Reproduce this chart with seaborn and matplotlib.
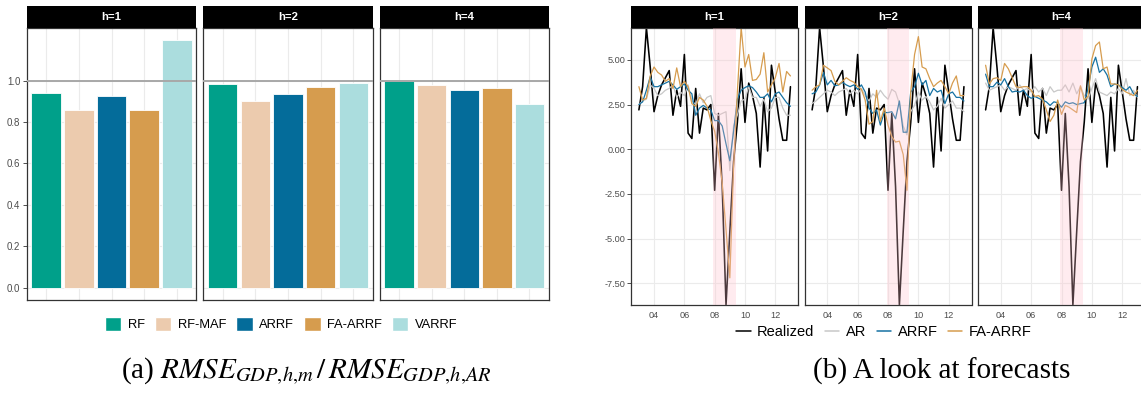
import pandas as pd
import matplotlib
matplotlib.use("Agg")
import matplotlib.pyplot as plt
import matplotlib.dates as mdates
from matplotlib.patches import Patch
from matplotlib.lines import Line2D
import seaborn as sns

# ---------------------------------------------------------------- data
horizons = ["h=1", "h=2", "h=4"]
models = ["RF", "RF-MAF", "ARRF", "FA-ARRF", "VARRF"]
model_colors = ["#00A08A", "#ECCBAE", "#046C9A", "#D69C4E", "#ABDDDE"]

# RMSE relative to the AR benchmark, one list per horizon
ratio_h1 = [0.938, 0.859, 0.928, 0.858, 1.196]
ratio_h2 = [0.986, 0.904, 0.936, 0.968, 0.990]
ratio_h4 = [0.997, 0.981, 0.954, 0.965, 0.889]

# quarterly GDP growth (annualized) and forecasts, 2003Q1-2013Q1
quarter_start = "2003-01-01"
quarter_end = "2013-01-01"
realized = [2.2, 3.5, 6.8, 4.6, 2.1, 3.0, 3.6, 4.0, 4.4, 1.9, 3.3, 2.4,
            5.3, 0.9, 0.6, 3.4, 0.9, 2.3, 2.2, 2.5, -2.3, 2.0, -2.1, -8.72,
            -4.6, -0.7, 1.5, 4.5, 1.5, 3.7, 3.0, 2.0, -1.0, 2.9, -0.1, 4.7,
            3.2, 1.7, 0.5, 0.5, 3.5]

ar_h1 = [2.5, 2.7, 2.8, 3.6, 3.4, 3.0, 3.1, 3.3, 3.4, 3.6, 2.9, 3.2,
         3.0, 3.6, 2.7, 2.5, 3.1, 2.6, 2.9, 3.0, 2.0, 1.9, 2.0, 2.1,
         -1.2, 1.3, 1.9, 2.7, 2.8, 3.5, 2.9, 2.9, 2.4, 2.8, 2.1, 2.3,
         2.9, 2.9, 2.3, 1.9, 1.9]
arrf_h1 = [2.5, 2.65, 3.3, 4.05, 3.5, 3.5, 3.6, 3.7, 3.8, 3.6, 3.35, 3.5,
           3.65, 3.3, 3.1, 1.9, 2.3, 2.45, 2.3, 2.2, 1.6, 1.6, 1.3, 0.3,
           -0.65, 1.0, 2.8, 3.3, 3.45, 3.55, 3.45, 3.2, 2.9, 2.9, 3.1, 2.65,
           3.1, 3.2, 2.9, 2.6, 2.4]
faarrf_h1 = [3.5, 2.75, 2.85, 4.1, 4.6, 4.3, 4.15, 3.8, 3.95, 3.4, 4.55, 3.5,
             3.8, 3.5, 2.55, 2.4, 2.9, 2.75, 2.4, 1.6, 1.0, -0.2, -1.9, -4.5,
             -7.2, -1.0, 3.2, 6.8, 4.6, 5.3, 3.85, 3.9, 4.2, 5.4, 3.2, 3.6,
             4.0, 4.8, 3.2, 4.35, 4.1]

ar_h2 = [2.55, 2.7, 2.9, 3.1, 3.3, 3.2, 3.0, 3.2, 3.3, 3.4, 3.1, 3.3,
         3.1, 3.4, 3.0, 2.7, 3.1, 2.9, 3.3, 3.0, 2.8, 3.35, 3.2, 2.55,
         1.3, 0.8, 2.1, 2.45, 3.2, 2.75, 2.95, 2.65, 2.2, 2.4, 2.85, 2.3,
         2.5, 2.7, 2.3, 2.3, 2.1]
arrf_h2 = [3.1, 3.2, 3.6, 4.3, 3.6, 3.85, 3.55, 3.6, 3.75, 3.6, 3.5, 3.6,
           3.35, 3.6, 3.2, 2.3, 2.0, 2.2, 1.35, 2.05, 2.05, 2.1, 1.7, 2.7,
           0.95, 0.95, 3.2, 3.5, 4.25, 3.6, 3.85, 3.0, 3.4, 3.2, 3.3, 2.55,
           3.1, 3.2, 2.9, 2.9, 2.7]
faarrf_h2 = [3.3, 3.5, 3.6, 4.7, 4.55, 4.4, 3.8, 3.6, 3.8, 4.0, 3.85, 3.75,
             3.5, 3.35, 2.75, 1.4, 1.55, 3.3, 1.55, 2.3, 1.35, 0.7, 0.4, 0.45,
             -0.3, -2.3, 3.2, 5.3, 6.3, 4.6, 4.5, 3.95, 3.5, 3.7, 3.85, 3.5,
             3.1, 3.7, 4.1, 3.0, 3.0]

ar_h4 = [3.7, 3.3, 3.4, 3.5, 3.6, 3.3, 3.5, 3.4, 3.3, 3.6, 3.3, 3.4,
         3.2, 3.5, 3.2, 3.4, 3.0, 3.5, 3.2, 3.3, 3.3, 3.6, 3.2, 3.7,
         3.1, 3.5, 3.0, 2.8, 3.4, 3.95, 3.2, 3.1, 3.0, 3.2, 3.1, 3.4,
         3.1, 3.95, 3.0, 3.3, 2.9]
arrf_h4 = [4.2, 3.5, 3.5, 3.75, 3.6, 3.95, 3.5, 3.2, 3.25, 3.2, 3.3, 3.0,
           2.85, 2.95, 2.85, 2.75, 2.65, 2.45, 2.65, 2.6, 2.35, 2.65, 2.55, 2.6,
           2.5, 2.55, 2.6, 3.4, 4.6, 5.15, 4.3, 4.5, 4.15, 3.5, 3.65, 3.6,
           3.45, 3.3, 3.5, 3.1, 2.95]
faarrf_h4 = [4.7, 3.65, 3.95, 4.0, 3.85, 4.8, 4.5, 4.0, 3.5, 3.45, 3.5, 3.5,
             3.3, 2.95, 3.0, 2.8, 2.2, 1.55, 1.9, 2.75, 1.95, 2.45, 2.35, 2.2,
             2.05, 3.55, 2.75, 2.95, 5.05, 5.8, 6.0, 4.5, 4.6, 3.65, 3.65, 3.6,
             3.35, 3.2, 3.1, 3.0, 3.3]

recession_start = "2007-12-01"
recession_end = "2009-06-01"

series_names = ["Realized", "AR", "ARRF", "FA-ARRF"]
series_colors = ["#000000", "#C8C8C8", "#1672A3", "#D69C4E"]
series_widths = [1.15, 0.9, 0.9, 0.9]

# ---------------------------------------------------------------- frames
ratios = {"h=1": ratio_h1, "h=2": ratio_h2, "h=4": ratio_h4}
bar_df = pd.concat(
    [pd.DataFrame({"horizon": h, "model": models, "ratio": ratios[h]}) for h in horizons],
    ignore_index=True)

dates = pd.date_range(quarter_start, quarter_end, freq="QS")
forecasts = {
    "h=1": [realized, ar_h1, arrf_h1, faarrf_h1],
    "h=2": [realized, ar_h2, arrf_h2, faarrf_h2],
    "h=4": [realized, ar_h4, arrf_h4, faarrf_h4],
}
line_df = pd.concat(
    [pd.DataFrame({"date": dates, "horizon": h, "series": name, "value": vals})
     for h in horizons for name, vals in zip(series_names, forecasts[h])],
    ignore_index=True)

# ---------------------------------------------------------------- style
sns.set_theme(style="white")
plt.rcParams["font.family"] = ["Liberation Sans", "DejaVu Sans"]
plt.rcParams["mathtext.fontset"] = "stix"
plt.rcParams["text.color"] = "black"

W, H = 1141, 393
fig = plt.figure(figsize=(W / 100, H / 100), dpi=100)


def box(left, top, right, bottom):
    return [left / W, 1 - bottom / H, (right - left) / W, (bottom - top) / H]


def strip(left, right, label):
    sax = fig.add_axes(box(left, 6, right, 27.7))
    sax.set_facecolor("black")
    sax.set_xticks([])
    sax.set_yticks([])
    for s in sax.spines.values():
        s.set_visible(False)
    sax.text(0.5, 0.5, label, color="white", fontweight="bold", fontsize=8.2,
             ha="center", va="center", transform=sax.transAxes)


def frame(ax):
    ax.set_axisbelow(True)
    ax.grid(True, color="#EBEBEB", lw=0.8)
    for s in ax.spines.values():
        s.set_visible(True)
        s.set_color("#333333")
        s.set_linewidth(0.9)
    ax.tick_params(axis="both", which="major", length=3, width=0.6,
                   color="#333333", labelcolor="#4D4D4D", pad=1.5)
    ax.set_xlabel("")
    ax.set_ylabel("")


# ---------------------------------------------------------------- bars
bar_boxes = [(26.6, 196.4), (203, 373), (379.6, 549)]
palette_models = dict(zip(models, model_colors))
for k, (h, (l, r)) in enumerate(zip(horizons, bar_boxes)):
    ax = fig.add_axes(box(l, 27.7, r, 300))
    sns.barplot(data=bar_df[bar_df["horizon"] == h], x="model", y="ratio",
                hue="model", order=models, hue_order=models,
                palette=palette_models, saturation=1, width=0.9,
                edgecolor="white", linewidth=0.6, legend=False, ax=ax)
    ax.axhline(1.0, color="#A8A8A8", lw=1.4, zorder=4)
    ax.set_xlim(-0.6, 4.6)
    ax.set_ylim(-0.06, 1.256)
    ax.set_yticks([0.0, 0.2, 0.4, 0.6, 0.8, 1.0])
    frame(ax)
    ax.tick_params(axis="y", labelsize=7, left=(k == 0), labelleft=(k == 0))
    ax.set_yticklabels([f"{v:.1f}" for v in ax.get_yticks()])
    ax.tick_params(axis="x", labelbottom=False)
    strip(l, r, h)

# ---------------------------------------------------------------- lines
line_boxes = [(631.3, 798), (804.5, 971.5), (978, 1145)]
for k, (h, (l, r)) in enumerate(zip(horizons, line_boxes)):
    ax = fig.add_axes(box(l, 27.7, r, 305))
    sub = line_df[line_df["horizon"] == h]
    for name, col, lw in zip(series_names, series_colors, series_widths):
        sns.lineplot(data=sub[sub["series"] == name], x="date", y="value",
                     color=col, lw=lw, ax=ax, legend=False)
    ax.axvspan(pd.Timestamp(recession_start), pd.Timestamp(recession_end),
               color="#FFC0CB", alpha=0.3, lw=0, zorder=5)
    ax.set_xlim(pd.Timestamp("2002-07-02"), pd.Timestamp("2013-07-02"))
    ax.set_ylim(-8.72, 6.8)
    ax.set_yticks([-7.5, -5.0, -2.5, 0.0, 2.5, 5.0])
    ax.xaxis.set_major_locator(mdates.YearLocator(2))
    ax.xaxis.set_major_formatter(mdates.DateFormatter("%y"))
    frame(ax)
    ax.tick_params(axis="both", labelsize=6.6)
    ax.tick_params(axis="y", left=(k == 0), labelleft=(k == 0))
    ax.set_yticklabels([f"{v:.2f}" for v in ax.get_yticks()])
    strip(l, r, h)

# ---------------------------------------------------------------- legends
bar_handles = [Patch(facecolor=c, edgecolor="white", label=m)
               for m, c in zip(models, model_colors)]
fig.legend(handles=bar_handles, loc="center", ncol=5, frameon=False,
           bbox_to_anchor=(281 / W, 1 - 324 / H), fontsize=9.3,
           handlelength=1.3, handleheight=1.3, handletextpad=0.5,
           columnspacing=0.75, borderaxespad=0, labelcolor="black")

line_handles = [Line2D([], [], color=c, lw=1.1, label=n)
                for n, c in zip(series_names, series_colors)]
fig.legend(handles=line_handles, loc="center", ncol=4, frameon=False,
           bbox_to_anchor=(884 / W, 1 - 332 / H), fontsize=10.5,
           handlelength=1.0, handletextpad=0.45, columnspacing=0.7,
           borderaxespad=0, labelcolor="black")

# ---------------------------------------------------------------- captions
fig.text(306 / W, 1 - 371 / H,
         r"(a) $RMSE_{GDP{,}h{,}m}\,/\,RMSE_{GDP{,}h{,}AR}$",
         ha="center", va="center", fontsize=21, family="Liberation Serif",
         color="black")
fig.text(942 / W, 1 - 371 / H, "(b) A look at forecasts",
         ha="center", va="center", fontsize=21, family="Liberation Serif",
         color="black")

fig.savefig("out.png", dpi=100)
